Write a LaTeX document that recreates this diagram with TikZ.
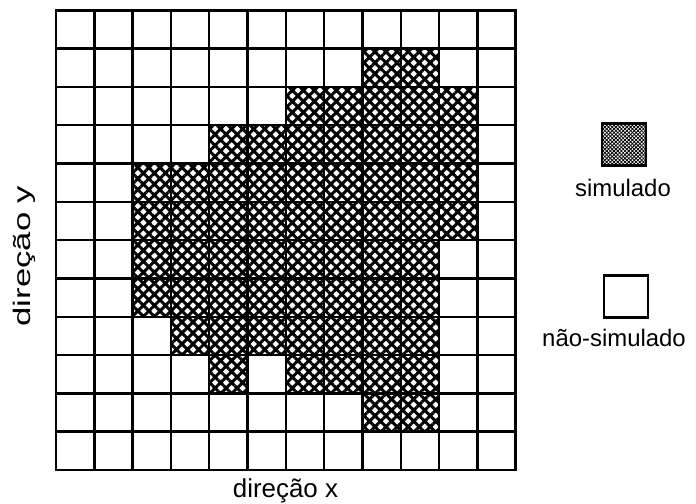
\documentclass[tikz,border=0pt]{standalone}
\usepackage{fontspec}
\setmainfont{Liberation Sans}
\usetikzlibrary{patterns.meta}
\tikzset{
    gridline/.style={line width=2.4bp, line cap=rect},
    simcell/.style={pattern={Hatch[angle=45,distance=7.8bp,line width=3.0bp]}},
    legbox/.style={draw, line width=2.4bp, minimum width=44bp, minimum height=42bp, inner sep=0pt},
    labeltext/.style={font=\fontsize{24}{28}\selectfont, inner sep=0pt},
    axistext/.style={font=\fontsize{26}{30}\selectfont, inner sep=0pt},
}
\begin{document}
\begin{tikzpicture}[x=1bp,y=1bp]
    \useasboundingbox (0,0) rectangle (696,504);
    \begin{scope}[shift={(56,34)}, x=38.3bp, y=38.3bp]
    % simulated cells (row from top / first col / last col)
        \foreach \r/\a/\b in {2/9/10,3/7/11,4/5/11,5/3/11,6/3/11,7/3/10,8/3/10,9/4/10,10/5/5,10/7/10,11/9/10}{
            \fill[simcell] (\a-1,12-\r) rectangle (\b,13-\r);
        }
    % grid
        \foreach \i in {0,...,12}{
            \draw[gridline] (\i,0) -- (\i,12);
            \draw[gridline] (0,\i) -- (12,\i);
        }
    \end{scope}
    % legend
        \node[legbox, pattern={Hatch[angle=45,distance=2.6bp,line width=0.8bp]}] (simbox) at (624,359.5) {};
        \node[labeltext, anchor=base] (simtext) at (623,307) {simulado};
        \node[legbox] (nsimbox) at (626,207.5) {};
        \node[labeltext, anchor=base] (nsimtext) at (614,157) {não-simulado};
    % axis labels
        \node[axistext, anchor=base] (xtext) at (285.5,6) {direção x};
        \node[labeltext, anchor=base, rotate=90, xscale=1.45] (ytext) at (30,248) {direção y};
\end{tikzpicture}
\end{document}
